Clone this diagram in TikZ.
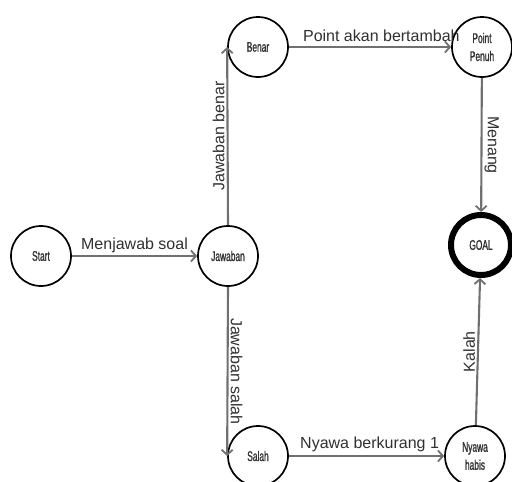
\documentclass[tikz,border=0pt]{standalone}
\usepackage{fontspec}
\setmainfont{Liberation Sans}
\newfontfamily\narrowfont[FakeStretch=0.6,FakeBold=1.2]{Liberation Sans}
\usetikzlibrary{arrows.meta}
\definecolor{edgegray}{HTML}{707070}
\definecolor{labelgray}{HTML}{303030}
\begin{document}
\begin{tikzpicture}[x=1pt,y=-1pt,
  state/.style={circle,draw=black,line width=1.7pt,minimum size=60pt,inner sep=0pt,
    font=\narrowfont\fontsize{14}{18}\selectfont,text=black!80,align=center},
  goalstate/.style={state,line width=6pt},
  conn/.style={draw=edgegray,line width=2.1pt,-{Straight Barb[length=5pt,width=11pt,line width=1.8pt]}},
  lbl/.style={font=\fontsize{16}{18}\selectfont,text=labelgray,inner sep=1pt}]
\useasboundingbox (0,0) rectangle (512,482);
\node[state] (start) at (41,256) {Start};
\node[state] (jaw) at (228,256) {Jawaban};
\node[state] (benar) at (258,47) {Benar};
\node[state] (pp) at (482,47) {Point\\Penuh};
\node[goalstate] (goal) at (481,245) {GOAL};
\node[state] (salah) at (258,456) {Salah};
\node[state] (nh) at (475,456) {Nyawa\\habis};
\draw[conn] (start) -- node[lbl,above,yshift=1pt] {Menjawab soal} (jaw);
\draw[conn] (jaw.north) -- node[lbl,rotate=90,above,yshift=1pt] {Jawaban benar} (benar.west);
\draw[conn] (jaw.south) -- node[lbl,rotate=-90,above,yshift=1pt] {Jawaban salah} (salah.west);
\draw[conn] (benar) -- node[lbl,above,pos=0.57,yshift=3pt] {Point akan bertambah} (pp);
\draw[conn] (salah) -- node[lbl,above,pos=0.52,yshift=2pt] {Nyawa berkurang 1} (nh);
\draw[conn] (pp) -- node[lbl,rotate=-90,above,yshift=1pt] {Menang} (goal);
\draw[conn] (nh) -- node[lbl,rotate=90,above,yshift=1pt] {Kalah} (goal);
\end{tikzpicture}
\end{document}
